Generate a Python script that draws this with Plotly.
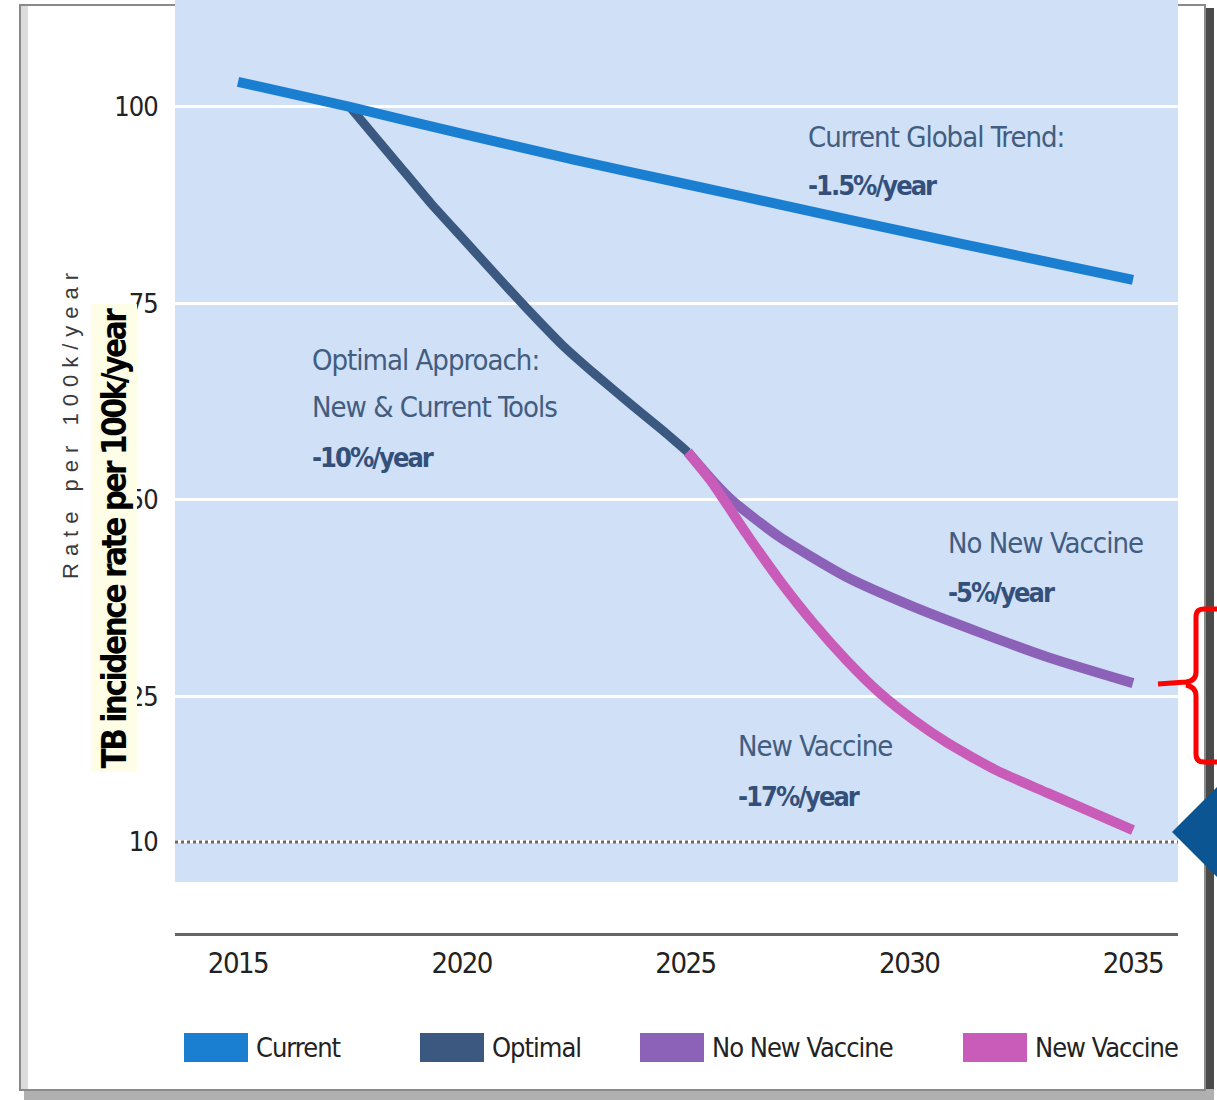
import plotly.graph_objects as go

# ---------------- DATA ----------------
current_years = [2015, 2017.5, 2020, 2022.5, 2025, 2027.5, 2030, 2032.5, 2035]
current_vals = [103.2, 100.0, 96.6, 93.3, 90.2, 87.1, 84.0, 81.0, 78.0]

optimal_years = [2017.5, 2018.55, 2019.3, 2020.05, 2020.8, 2021.4, 2022.25, 2023.0, 2023.75, 2024.5, 2025.05]
optimal_vals = [100.0, 92.9, 87.8, 83.1, 78.4, 74.7, 69.7, 65.9, 62.3, 58.8, 56.1]

nonew_years = [2025.05, 2025.6, 2026.05, 2027.1, 2028.6, 2030.1, 2031.6, 2033.1, 2035.0]
nonew_vals = [56.1, 52.5, 49.9, 45.3, 40.2, 36.4, 33.1, 30.0, 26.7]

newvac_years = [2025.05, 2025.6, 2026.35, 2027.1, 2027.85, 2028.6, 2029.35, 2030.1, 2030.85, 2031.95, 2033.1, 2035.0]
newvac_vals = [56.1, 52.2, 45.8, 39.8, 34.4, 29.6, 25.4, 22.0, 19.1, 15.6, 12.7, 8.0]

x_tick_vals = [2015, 2020, 2025, 2030, 2035]
x_tick_text = ["2015", "2020", "2025", "2030", "2035"]
y_tick_vals = [6.5, 25, 50, 75, 100]
y_tick_text = ["10", "25", "50", "75", "100"]
target_level = 6.5

series_names = ["Current", "Optimal", "No New Vaccine", "New Vaccine"]
series_colors = ["#1b7fd1", "#3a5880", "#8c62b8", "#c85cb8"]

# ---------------- LAYOUT HELPERS ----------------
W, H = 1217, 1100
def px(x):
    return x / W
def py(y):
    return 1 - y / H
def sp(text, ls):
    return f'<span style="letter-spacing:{ls}px">{text}</span>'

COND = "DejaVu Sans Condensed, DejaVu Sans, sans-serif"
SANS = "Liberation Sans, Arial, sans-serif"
TXT = "#425d80"
TXTB = "#34507a"

fig = go.Figure()

order = [(optimal_years, optimal_vals, 1, 9, 0.4),
         (nonew_years, nonew_vals, 2, 10, 0.6),
         (newvac_years, newvac_vals, 3, 10, 0.6),
         (current_years, current_vals, 0, 10, 0.6)]
for xs, ys, idx, w, sm in order:
    fig.add_trace(go.Scatter(
        x=xs, y=ys, mode="lines", name=series_names[idx],
        line=dict(color=series_colors[idx], width=w, shape="spline", smoothing=sm),
        showlegend=False, hoverinfo="skip"))

shapes = []
# frame with shadow
shapes.append(dict(type="rect", xref="paper", yref="paper",
                   x0=px(1204), x1=px(1214), y0=py(1100), y1=py(8),
                   fillcolor="#4a4a4a", line=dict(width=0), layer="below"))
shapes.append(dict(type="rect", xref="paper", yref="paper",
                   x0=px(24), x1=px(1214), y0=py(1100), y1=py(1089),
                   fillcolor="#b0b0b0", line=dict(width=0), layer="below"))
shapes.append(dict(type="rect", xref="paper", yref="paper",
                   x0=px(20), x1=px(1205), y0=py(1090), y1=py(5),
                   fillcolor="white", line=dict(color="#8a8a8a", width=2), layer="below"))
shapes.append(dict(type="rect", xref="paper", yref="paper",
                   x0=px(21), x1=px(28), y0=py(1089), y1=py(6),
                   fillcolor="#dcdcdc", line=dict(width=0), layer="below"))
# plot background panel
shapes.append(dict(type="rect", xref="x domain", yref="paper",
                   x0=0, x1=1, y0=py(882), y1=1,
                   fillcolor="#cfe0f7", line=dict(width=0), layer="below"))
# dotted 10 line
shapes.append(dict(type="line", xref="x domain", yref="y",
                   x0=0, x1=1, y0=target_level, y1=target_level,
                   line=dict(color="#6a6a6a", width=3, dash="dot"), layer="above"))

# red brace
def P(x, y):
    return f"{px(x):.5f},{py(y):.5f}"
brace = ("M" + P(1217, 609) + " L" + P(1204, 609) + " Q" + P(1196, 609) + " " + P(1196, 617) +
         " L" + P(1196, 672) + " Q" + P(1196, 681) + " " + P(1186, 682) +
         " L" + P(1158, 684) + " M" + P(1186, 685) + " Q" + P(1196, 687) + " " + P(1196, 696) +
         " L" + P(1196, 754) + " Q" + P(1196, 762) + " " + P(1204, 762) + " L" + P(1217, 762))
shapes.append(dict(type="path", xref="paper", yref="paper", path=brace,
                   line=dict(color="#ff0000", width=5), layer="above"))
# blue pointer triangle
tri = "M" + P(1172, 832) + " L" + P(1217, 787) + " L" + P(1217, 877) + " Z"
shapes.append(dict(type="path", xref="paper", yref="paper", path=tri,
                   fillcolor="#0b5592", line=dict(width=0), layer="above"))

# manual legend swatches
legend_x = [184, 420, 640, 963]
for i, name in enumerate(series_names):
    shapes.append(dict(type="rect", xref="paper", yref="paper",
                       x0=px(legend_x[i]), x1=px(legend_x[i] + 64),
                       y0=py(1062), y1=py(1033),
                       fillcolor=series_colors[i], line=dict(width=0), layer="above"))

annotations = []
def note(text, x, y, size, color, bold=False, ls=-1.0):
    t = sp(text, ls)
    if bold:
        t = f"<b>{t}</b>"
    annotations.append(dict(text=t, xref="paper", yref="paper", x=px(x), y=py(y),
                            xanchor="left", yanchor="middle", showarrow=False,
                            font=dict(family=COND, size=size, color=color)))

note("Current Global Trend:", 806, 137, 29, TXT)
note("-1.5%/year", 806, 186, 27, TXTB, True, -2)
note("Optimal Approach:", 310, 360, 29, TXT)
note("New &amp; Current Tools", 310, 407, 29, TXT)
note("-10%/year", 310, 457, 27, TXTB, True, -2)
note("No New Vaccine", 946, 543, 29, TXT)
note("-5%/year", 946, 592, 27, TXTB, True, -2)
note("New Vaccine", 736, 746, 29, TXT)
note("-17%/year", 736, 796, 27, TXTB, True, -2)

for i, name in enumerate(series_names):
    note(name, legend_x[i] + 70, 1047, 27, "#222222")

# axis titles
annotations.append(dict(text=sp("Rate per 100k/year", 7),
                        xref="paper", yref="paper", x=px(70), y=py(423),
                        xanchor="center", yanchor="middle",
                        textangle=-90, showarrow=False,
                        font=dict(family=SANS, size=22, color="#3a3a3a")))
annotations.append(dict(text="<b>" + sp("TB incidence rate per 100k/year", -2.5) + "</b>",
                        xref="paper", yref="paper", x=px(114.5), y=py(538),
                        xanchor="center", yanchor="middle",
                        textangle=-90, showarrow=False, bgcolor="#fefde6",
                        borderpad=3,
                        font=dict(family=COND, size=33, color="#000000")))

fig.update_layout(
    width=W, height=H,
    margin=dict(l=0, r=0, t=0, b=0),
    paper_bgcolor="white", plot_bgcolor="rgba(0,0,0,0)",
    showlegend=False,
    shapes=shapes, annotations=annotations,
    xaxis=dict(domain=[px(175), px(1178)], range=[2013.592, 2036.006],
               tickvals=x_tick_vals, ticktext=[sp(t, -1.5) for t in x_tick_text],
               showgrid=False, zeroline=False,
               showline=True, linecolor="#666666", linewidth=3,
               ticks="outside", ticklen=0, ticklabelstandoff=2,
               tickfont=dict(family=COND, size=29, color="#222222")),
    yaxis=dict(domain=[py(933), py(22)], range=[-5.09, 110.81],
               tickvals=y_tick_vals, ticktext=[sp(t, -1) for t in y_tick_text],
               showgrid=True, gridcolor="white", gridwidth=3,
               zeroline=False, showline=False,
               ticks="outside", ticklen=0, ticklabelstandoff=11,
               tickfont=dict(family=COND, size=27, color="#222222")),
)

fig.write_html("out.html")
